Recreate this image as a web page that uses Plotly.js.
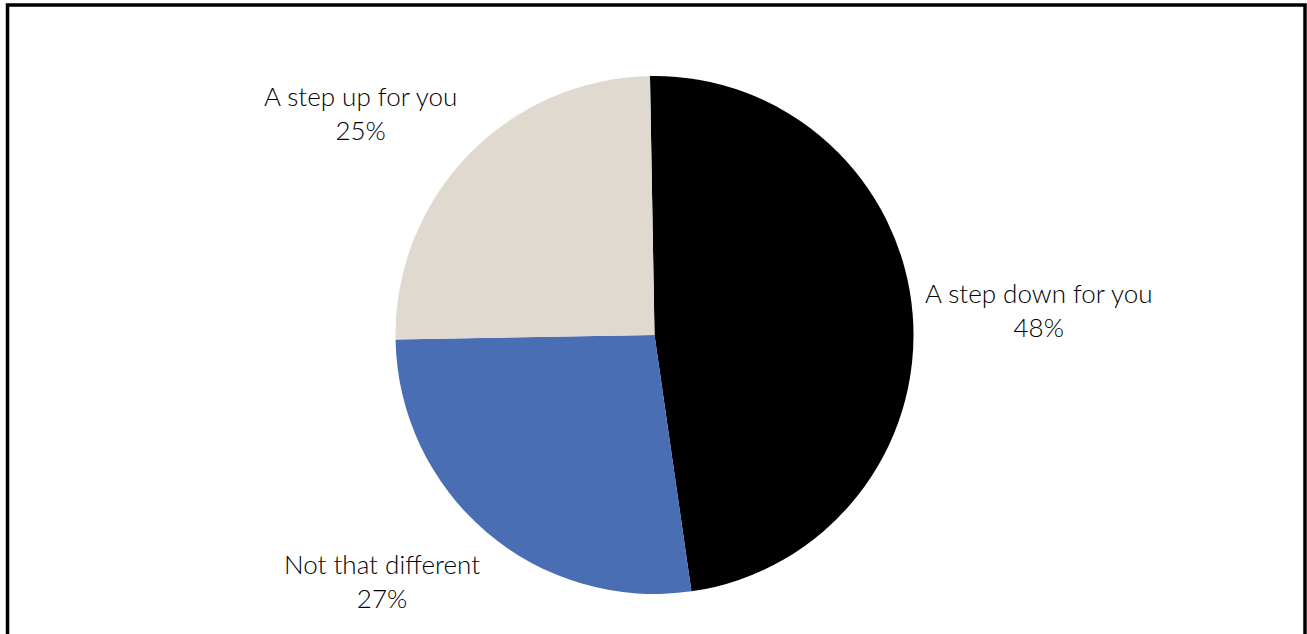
<!DOCTYPE html>
<html>
<head>
<meta charset="utf-8">
<script src="https://cdn.plot.ly/plotly-3.0.1.min.js"></script>
<style>
html,body{margin:0;padding:0;background:#fff;}
#chart{width:1307px;height:634px;}
</style>
</head>
<body>
<div id="chart"></div>
<script>
const categories = ["A step down for you", "Not that different", "A step up for you"];
const values = [48, 27, 25];
const colors = ["#000000", "#4a6eb4", "#dfd9d0"];

const labelPos = [
  {x: 1038 / 1307, y: 1 - 309.5 / 634},
  {x: 382 / 1307, y: 1 - 580.5 / 634},
  {x: 360 / 1307, y: 1 - 112.5 / 634}
];

const total = values.reduce((a, b) => a + b, 0);
const annotations = categories.map((c, i) => ({
  xref: "paper", yref: "paper",
  x: labelPos[i].x, y: labelPos[i].y,
  xanchor: "center", yanchor: "middle",
  text: c + "<br>" + Math.round(values[i] / total * 100) + "%",
  showarrow: false,
  align: "center",
  font: {family: "Lato, 'Open Sans', sans-serif", size: 26, weight: 300, color: "#000000"}
}));

const trace = {
  type: "pie",
  labels: categories,
  values: values,
  sort: false,
  direction: "clockwise",
  rotation: -1,
  marker: {colors: colors, line: {width: 0}},
  textinfo: "none",
  hoverinfo: "label+percent",
  domain: {x: [395.5 / 1307, 913.5 / 1307], y: [40 / 634, 558 / 634]},
  showlegend: false
};

const layout = {
  width: 1307, height: 634,
  margin: {l: 0, r: 0, t: 0, b: 0},
  paper_bgcolor: "#ffffff",
  showlegend: false,
  annotations: annotations,
  shapes: [{
    type: "rect", xref: "paper", yref: "paper",
    x0: 7.5 / 1307, x1: 1305 / 1307, y0: -0.05, y1: 1 - 5 / 634,
    line: {color: "#000000", width: 3.5}, fillcolor: "rgba(0,0,0,0)", layer: "above"
  }]
};

Plotly.newPlot("chart", [trace], layout, {staticPlot: true});
</script>
</body>
</html>
